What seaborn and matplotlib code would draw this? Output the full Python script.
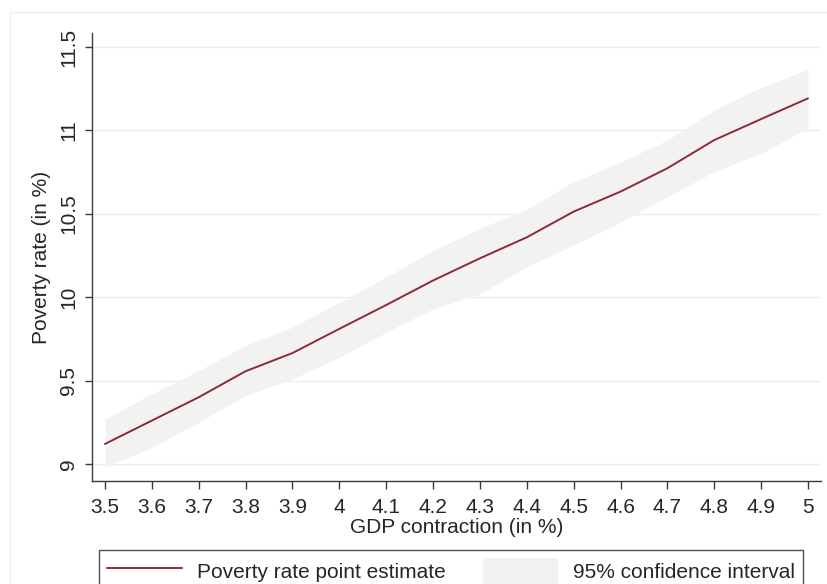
import numpy as np
import pandas as pd
import matplotlib
matplotlib.use("Agg")
import matplotlib.pyplot as plt
import seaborn as sns
from matplotlib.patches import Rectangle, Patch
from matplotlib.lines import Line2D

# data
gdp_contraction = [3.5, 3.6, 3.7, 3.8, 3.9, 4.0, 4.1, 4.2, 4.3, 4.4, 4.5, 4.6, 4.7, 4.8, 4.9, 5.0]
poverty_rate = [9.12, 9.26, 9.40, 9.556, 9.665, 9.81, 9.953, 10.10, 10.233, 10.359, 10.513, 10.633, 10.773, 10.942, 11.068, 11.192]
ci_upper = [9.27, 9.42, 9.56, 9.71, 9.82, 9.97, 10.12, 10.279, 10.413, 10.527, 10.693, 10.809, 10.942, 11.122, 11.258, 11.366]
ci_lower = [8.98, 9.10, 9.25, 9.41, 9.51, 9.64, 9.79, 9.93, 10.019, 10.183, 10.313, 10.449, 10.603, 10.753, 10.863, 11.013]

ytick_vals = [9, 9.5, 10, 10.5, 11, 11.5]
ytick_labels = ["9", "9.5", "10", "10.5", "11", "11.5"]
xtick_labels = ["3.5", "3.6", "3.7", "3.8", "3.9", "4", "4.1", "4.2", "4.3", "4.4",
                "4.5", "4.6", "4.7", "4.8", "4.9", "5"]

df = pd.DataFrame({"gdp": gdp_contraction, "pov": poverty_rate,
                   "lo": ci_lower, "hi": ci_upper})

sns.set_style("white")
plt.rcParams["font.family"] = ["Liberation Sans", "DejaVu Sans"]

line_col = "#8E2A38"
band_col = "#F2F2F2"
axis_col = "#3A3A3A"
fs = 15

fig = plt.figure(figsize=(8.27, 5.84), dpi=100)
ax = fig.add_axes([0.1112, 0.1764, 0.8815, 0.7671])

# faint outer graph region border
fig.patches.append(Rectangle((10 / 827, -0.1), 1.2, 1 - 12 / 584 + 0.1,
                             transform=fig.transFigure, fill=False,
                             edgecolor="#F0F0F0", linewidth=1.0, zorder=0))

ax.fill_between(df["gdp"], df["lo"], df["hi"], color=band_col, linewidth=0, zorder=1)
sns.lineplot(data=df, x="gdp", y="pov", ax=ax, color=line_col, linewidth=1.4,
             zorder=3, legend=False)

ax.set_xlim(3.4723, 5.0277)
ax.set_ylim(8.898, 11.584)

ax.set_xticks(gdp_contraction)
ax.set_xticklabels(xtick_labels, fontsize=fs)
ax.set_yticks(ytick_vals)
ax.set_yticklabels(ytick_labels, fontsize=fs, rotation=90, va="center")

ax.yaxis.grid(True, color="#E6EEF0", linewidth=1.0, zorder=0)
ax.xaxis.grid(False)
ax.set_axisbelow(True)

for s in ["top", "right"]:
    ax.spines[s].set_visible(False)
for s in ["left", "bottom"]:
    ax.spines[s].set_color(axis_col)
    ax.spines[s].set_linewidth(1.0)

ax.tick_params(axis="x", direction="out", length=6, width=1, color=axis_col, pad=6)
ax.tick_params(axis="y", direction="out", length=5, width=1, color=axis_col, pad=5)
ax.tick_params(left=True, bottom=True)

ax.set_xlabel("GDP contraction (in %)", fontsize=fs, labelpad=1)
ax.set_ylabel("Poverty rate (in %)", fontsize=fs, labelpad=6)

handles = [Line2D([0], [0], color=line_col, linewidth=1.4),
           Patch(facecolor=band_col, edgecolor="none")]
leg = fig.legend(handles, ["Poverty rate point estimate", "95% confidence interval"],
                 loc="upper left", bbox_to_anchor=(99 / 827, 1 - 550 / 584),
                 ncol=2, fontsize=fs, frameon=True, fancybox=False,
                 handlelength=3.6, handleheight=1.5, handletextpad=0.7,
                 columnspacing=1.8, borderpad=0.4, borderaxespad=0)
leg.get_frame().set_edgecolor("#222222")
leg.get_frame().set_linewidth(1.0)

fig.savefig("out.png", dpi=100)
